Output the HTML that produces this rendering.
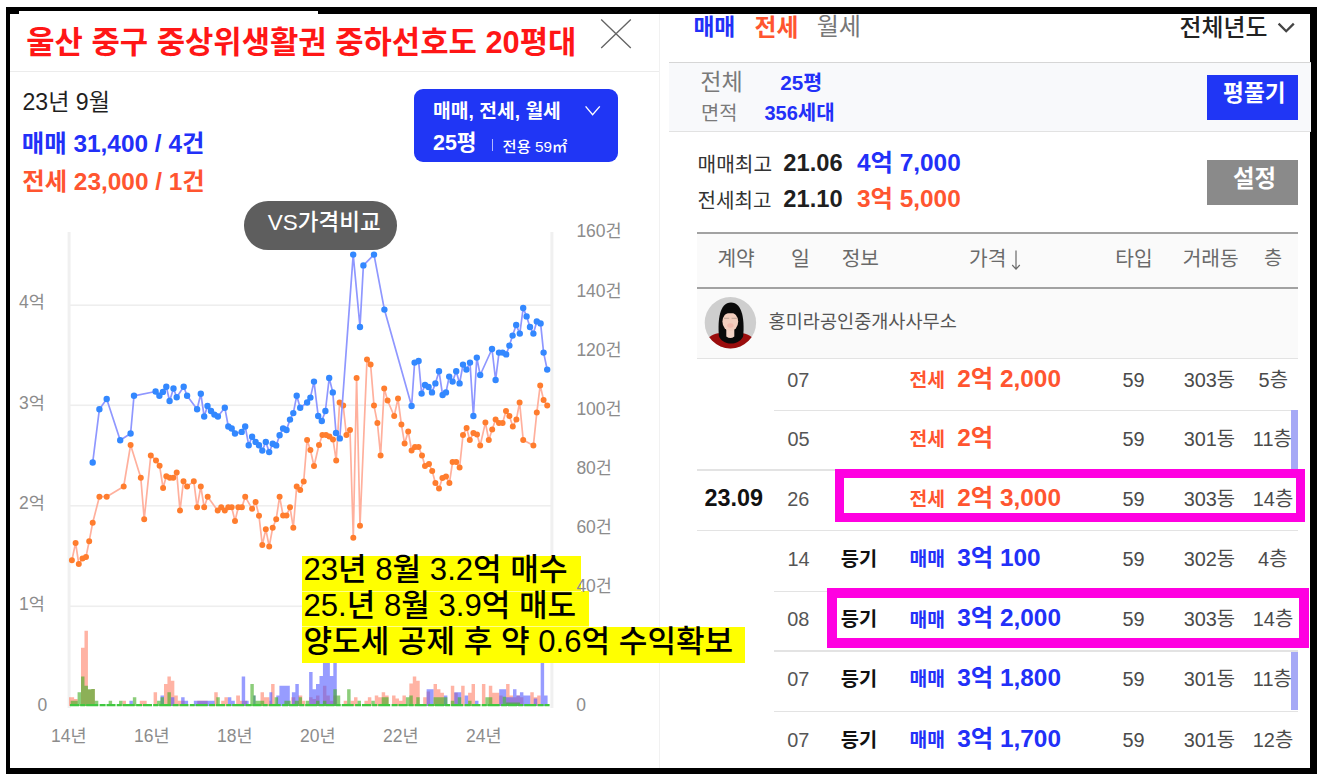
<!DOCTYPE html><html lang="ko"><head><meta charset="utf-8"><title>실거래가</title><style>
html,body{margin:0;padding:0;background:#fff}
body{width:1322px;height:780px;overflow:hidden;font-family:"Liberation Sans","Noto Sans CJK KR",sans-serif}
#app{position:relative;width:1322px;height:780px;overflow:hidden;background:#fff}
#app div,#app svg{position:absolute}
.k{background:#000}
.t{position:absolute;white-space:nowrap;line-height:1;font-family:"Liberation Sans","Noto Sans CJK KR",sans-serif}
.ln{background:#e9e9e9}
</style></head><body><div id="app"><div class="k" style="left:6px;top:7px;width:1311px;height:3.5px"></div><div class="k" style="left:318px;top:7px;width:999px;height:7px"></div><div class="k" style="left:6px;top:7px;width:13px;height:7px"></div><div class="k" style="left:6px;top:7px;width:3.6px;height:767px"></div><div class="k" style="left:1310.4px;top:7px;width:6.6px;height:767px"></div><div class="k" style="left:6px;top:768px;width:1311px;height:6px"></div><div class="ln" style="left:10px;top:71px;width:649px;height:1.4px;background:#ececec"></div><div class="ln" style="left:659px;top:14px;width:1.3px;height:754px;background:#f1f1f1"></div><svg style="left:598px;top:16px" width="36" height="36" viewBox="0 0 36 36"><path d="M3.2 3.6L32.8 32M32.8 3.6L3.2 32" stroke="#646464" stroke-width="1.35" fill="none"/></svg><div style="left:414.4px;top:88.7px;width:203.9px;height:73.4px;border-radius:9px;background:#2036f5"></div><svg style="left:582px;top:102px" width="22" height="16" viewBox="0 0 22 16"><path d="M3.6 4.4L10.6 12.6L17.8 4.4" stroke="#fff" stroke-width="1.4" fill="none"/></svg><div style="left:491.8px;top:139px;width:1.1px;height:11.5px;background:rgba(255,255,255,.65)"></div><svg style="left:0;top:0" width="1322" height="780" viewBox="0 0 1322 780"><rect x="67.6" y="232" width="3" height="476" fill="#f0f0f0"/><rect x="550.4" y="232" width="3" height="476" fill="#f0f0f0"/><rect x="70" y="304.4" width="481" height="1.6" fill="#eeeeee"/><rect x="70" y="404.5" width="481" height="1.6" fill="#eeeeee"/><rect x="70" y="505" width="481" height="1.6" fill="#eeeeee"/><rect x="70" y="605.5" width="481" height="1.6" fill="#eeeeee"/><path d="M69 706h1.66v-8.65h-1.66zM70.66 706h3.46v-8.65h-3.46zM74.11 706h3.46v-6.92h-3.46zM81.02 706h3.46v-58.25h-3.46zM84.48 706h3.46v-75.32h-3.46zM87.94 706h3.46v-16.15h-3.46zM91.39 706h3.46v-17.07h-3.46zM122.5 706h3.46v-5.19h-3.46zM139.78 706h3.46v-5.19h-3.46zM143.23 706h3.46v-5.19h-3.46zM153.6 706h3.46v-13.84h-3.46zM163.97 706h3.46v-21.91h-3.46zM167.42 706h3.46v-29.41h-3.46zM170.88 706h3.46v-25.37h-3.46zM174.34 706h3.46v-10.38h-3.46zM177.79 706h3.46v-5.19h-3.46zM309.12 706h3.46v-8.65h-3.46zM312.58 706h3.46v-6.92h-3.46zM316.03 706h3.46v-10.38h-3.46zM322.94 706h3.46v-20.18h-3.46zM326.4 706h3.46v-10.38h-3.46zM329.86 706h3.46v-5.19h-3.46zM333.31 706h3.46v-10.38h-3.46zM343.68 706h3.46v-5.19h-3.46zM350.59 706h3.46v-5.19h-3.46zM354.05 706h3.46v-8.65h-3.46zM364.42 706h3.46v-5.19h-3.46zM367.87 706h3.46v-8.65h-3.46zM374.78 706h3.46v-10.38h-3.46zM378.24 706h3.46v-8.65h-3.46zM381.7 706h3.46v-13.84h-3.46zM385.15 706h3.46v-10.38h-3.46zM392.06 706h3.46v-10.38h-3.46zM395.52 706h3.46v-7.5h-3.46zM398.98 706h3.46v-5.19h-3.46zM402.43 706h3.46v-10.38h-3.46zM409.34 706h3.46v-22.49h-3.46zM412.8 706h3.46v-29.41h-3.46zM416.26 706h3.46v-25.37h-3.46zM423.17 706h3.46v-8.65h-3.46zM426.62 706h3.46v-14.42h-3.46zM433.54 706h3.46v-21.91h-3.46zM436.99 706h3.46v-16.72h-3.46zM440.45 706h3.46v-13.26h-3.46zM450.82 706h3.46v-20.18h-3.46zM454.27 706h3.46v-13.26h-3.46zM461.18 706h3.46v-20.18h-3.46zM468.1 706h3.46v-13.26h-3.46zM471.55 706h3.46v-21.91h-3.46zM481.92 706h3.46v-21.91h-3.46zM488.83 706h3.46v-20.18h-3.46zM492.29 706h3.46v-13.26h-3.46zM495.74 706h3.46v-13.26h-3.46zM499.2 706h3.46v-10.38h-3.46zM506.11 706h3.46v-21.91h-3.46zM509.57 706h3.46v-10.38h-3.46zM513.02 706h3.46v-8.65h-3.46zM516.48 706h3.46v-10.38h-3.46zM519.94 706h3.46v-8.65h-3.46zM530.3 706h3.46v-13.84h-3.46zM533.76 706h3.46v-8.65h-3.46zM537.22 706h3.46v-10.38h-3.46zM180 706h4.61v-5.19h-4.61zM197.3 706h10.38v-5.19h-10.38zM214.26 706h3.46v-13.84h-3.46zM221.18 706h3.23v-5.19h-3.23zM224.41 706h3.46v-8.65h-3.46zM236.17 706h3.81v-10.38h-3.81zM239.98 706h6.92v-5.19h-6.92zM260.51 706h3.46v-13.84h-3.46zM263.97 706h5.42v-8.65h-5.42zM271.12 706h3.46v-21.91h-3.46zM264.78 706h6.34v-5.19h-6.34zM291.3 706h4.04v-8.65h-4.04zM298.22 706h4.04v-10.38h-4.04zM302.26 706h2.88v-5.19h-2.88z" fill="rgba(255,110,80,.52)"/><path d="M129.41 706h3.46v-5.19h-3.46zM160.51 706h3.46v-10.38h-3.46zM170.88 706h3.46v-8.65h-3.46zM309.12 706h3.46v-34.03h-3.46zM312.58 706h3.46v-16.72h-3.46zM316.03 706h3.46v-21.91h-3.46zM319.49 706h3.46v-29.99h-3.46zM322.94 706h3.46v-78.43h-3.46zM326.4 706h3.46v-78.43h-3.46zM329.86 706h3.46v-29.99h-3.46zM333.31 706h3.46v-78.43h-3.46zM426.62 706h3.46v-16.72h-3.46zM430.08 706h3.46v-16.72h-3.46zM443.9 706h3.46v-10.38h-3.46zM454.27 706h3.46v-13.84h-3.46zM457.73 706h3.46v-13.84h-3.46zM464.64 706h3.46v-10.38h-3.46zM475.01 706h3.46v-5.19h-3.46zM499.2 706h3.46v-16.72h-3.46zM502.66 706h3.46v-16.72h-3.46zM506.11 706h3.46v-8.65h-3.46zM509.57 706h3.46v-8.65h-3.46zM513.02 706h3.46v-16.72h-3.46zM516.48 706h3.46v-10.38h-3.46zM519.94 706h3.46v-13.84h-3.46zM523.39 706h3.46v-10.38h-3.46zM526.85 706h3.46v-10.38h-3.46zM533.76 706h3.46v-7.5h-3.46zM540.67 706h3.46v-78.43h-3.46zM544.13 706h3.46v-10.38h-3.46zM181.15 706h3.46v-8.65h-3.46zM184.61 706h3.46v-5.19h-3.46zM193.84 706h20.76v-5.19h-20.76zM227.87 706h3.46v-8.65h-3.46zM231.33 706h3.46v-5.19h-3.46zM241.71 706h3.46v-29.41h-3.46zM245.17 706h3.46v-5.19h-3.46zM253.24 706h2.31v-10.38h-2.31zM269.39 706h2.88v-13.84h-2.88zM276.31 706h3.11v-10.38h-3.11zM279.42 706h10.38v-20.18h-10.38zM291.88 706h3.46v-13.84h-3.46zM295.34 706h3.46v-21.91h-3.46z" fill="rgba(75,85,255,.58)"/><path d="M70.66 706h3.46v-5.19h-3.46zM74.11 706h3.46v-5.19h-3.46zM77.57 706h3.46v-13.84h-3.46zM81.02 706h3.46v-29.41h-3.46zM84.48 706h3.46v-20.18h-3.46zM87.94 706h3.46v-16.72h-3.46zM91.39 706h3.46v-17.07h-3.46zM94.85 706h3.46v-5.19h-3.46zM108.67 706h3.46v-5.19h-3.46zM119.04 706h3.46v-5.19h-3.46zM132.86 706h3.46v-8.65h-3.46zM157.06 706h3.46v-5.19h-3.46zM160.51 706h3.46v-8.65h-3.46zM167.42 706h3.46v-13.84h-3.46zM316.03 706h3.46v-5.19h-3.46zM322.94 706h3.46v-5.19h-3.46zM333.31 706h3.46v-16.72h-3.46zM336.77 706h3.46v-10.38h-3.46zM347.14 706h3.46v-16.72h-3.46zM357.5 706h3.46v-5.19h-3.46zM371.33 706h3.46v-5.19h-3.46zM381.7 706h3.46v-8.65h-3.46zM385.15 706h3.46v-8.65h-3.46zM405.89 706h3.46v-8.65h-3.46zM409.34 706h3.46v-10.38h-3.46zM416.26 706h3.46v-8.65h-3.46zM433.54 706h3.46v-8.65h-3.46zM436.99 706h3.46v-8.65h-3.46zM440.45 706h3.46v-8.65h-3.46zM443.9 706h3.46v-8.65h-3.46zM450.82 706h3.46v-5.19h-3.46zM457.73 706h3.46v-8.65h-3.46zM468.1 706h3.46v-5.19h-3.46zM485.38 706h3.46v-8.65h-3.46zM488.83 706h3.46v-8.65h-3.46zM502.66 706h3.46v-9.23h-3.46zM506.11 706h3.46v-3.46h-3.46zM509.57 706h3.46v-3.46h-3.46zM513.02 706h3.46v-3.46h-3.46zM516.48 706h3.46v-3.46h-3.46zM216.33 706h3.46v-8.65h-3.46zM250.36 706h3.46v-21.91h-3.46zM253.82 706h1.73v-10.38h-1.73zM255.55 706h8.65v-5.19h-8.65zM274.58 706h3.46v-8.65h-3.46zM284.38 706h6.34v-5.19h-6.34zM294.76 706h4.04v-5.19h-4.04zM298.8 706h3.23v-8.65h-3.23zM305.72 706h3.46v-5.19h-3.46z" fill="rgba(70,175,40,.62)"/><path d="M70 705.2H549.6" stroke="#3fc83f" stroke-width="2.2" stroke-dasharray="9 1.2 5 1 12 1.4 6 .9" fill="none"/><path d="M71.9 560.2 75.6 542.9 78.8 564 82.5 558.5 86 556.9 89.2 541.2 92.7 522.7 99.4 496.7 106.7 496.7 123.7 486.5 130.6 445 140.8 477.7 144.2 519.2 150.8 455.4 156 460.4 159.6 465.8 163.1 488 166.3 476.2 169.8 477.7 173.3 477.7 176.7 472.5 180 510.6 183.5 481.2 187.1 486.5 193.8 481.2 197.1 507.3 200.8 486.5 204.2 507.3 207.7 496.7 217.7 510.6 221.2 507.3 224.8 510.6 228.3 507.3 231.7 507.3 235 521 238.3 507.3 241.9 507.3 245.2 496.7 252.1 508.8 255.6 501.9 259 515.8 262.3 545 265.8 529.2 269.2 546.5 272.7 527.7 276.2 519.2 279.6 496.7 283.1 515.6 286.5 515.6 290 507.3 293.3 527.7 296.7 486.5 300.2 490 303.7 481.5 307.1 440 310.4 450 314 466 319 445 322.4 435 326 435 329.4 436.6 333 439.4 336.2 460.6 339.6 402.4 343.2 405.6 346.4 435 350 430 353.3 537.8 356.6 378 360 525.8 367 359.4 370.6 364.6 374 405.6 377.4 423 380.6 455.6 384.2 388.6 387.6 400.6 394.2 416 398 398.6 401.4 424.6 404.6 443.6 408.2 431.4 411.6 450.4 415 447 418.6 447 422 455.6 425 466 429 464 432.2 471 435.4 483 439 488.4 442.4 478 446 476.4 449.4 483 452.6 462 456.2 462 459.6 467.4 463 435 466.6 428 469.8 440 473.4 433 477 434.6 480.2 445.4 485.4 422.6 488.8 440 492.2 429.6 495.6 419.4 499 423 502.6 423 506 411 509.4 416 512.8 426.4 516.4 419.4 519.6 402.4 523.2 440 533.4 445.4 536.8 412.6 540.2 385.4 543.6 400 547.2 405.6" fill="none" stroke="#ffb09d" stroke-width="1.7" stroke-linejoin="round"/><path d="M71.9 560.2h0M75.6 542.9h0M78.8 564h0M82.5 558.5h0M86 556.9h0M89.2 541.2h0M92.7 522.7h0M99.4 496.7h0M106.7 496.7h0M123.7 486.5h0M130.6 445h0M140.8 477.7h0M144.2 519.2h0M150.8 455.4h0M156 460.4h0M159.6 465.8h0M163.1 488h0M166.3 476.2h0M169.8 477.7h0M173.3 477.7h0M176.7 472.5h0M180 510.6h0M183.5 481.2h0M187.1 486.5h0M193.8 481.2h0M197.1 507.3h0M200.8 486.5h0M204.2 507.3h0M207.7 496.7h0M217.7 510.6h0M221.2 507.3h0M224.8 510.6h0M228.3 507.3h0M231.7 507.3h0M235 521h0M238.3 507.3h0M241.9 507.3h0M245.2 496.7h0M252.1 508.8h0M255.6 501.9h0M259 515.8h0M262.3 545h0M265.8 529.2h0M269.2 546.5h0M272.7 527.7h0M276.2 519.2h0M279.6 496.7h0M283.1 515.6h0M286.5 515.6h0M290 507.3h0M293.3 527.7h0M296.7 486.5h0M300.2 490h0M303.7 481.5h0M307.1 440h0M310.4 450h0M314 466h0M319 445h0M322.4 435h0M326 435h0M329.4 436.6h0M333 439.4h0M336.2 460.6h0M339.6 402.4h0M343.2 405.6h0M346.4 435h0M350 430h0M353.3 537.8h0M356.6 378h0M360 525.8h0M367 359.4h0M370.6 364.6h0M374 405.6h0M377.4 423h0M380.6 455.6h0M384.2 388.6h0M387.6 400.6h0M394.2 416h0M398 398.6h0M401.4 424.6h0M404.6 443.6h0M408.2 431.4h0M411.6 450.4h0M415 447h0M418.6 447h0M422 455.6h0M425 466h0M429 464h0M432.2 471h0M435.4 483h0M439 488.4h0M442.4 478h0M446 476.4h0M449.4 483h0M452.6 462h0M456.2 462h0M459.6 467.4h0M463 435h0M466.6 428h0M469.8 440h0M473.4 433h0M477 434.6h0M480.2 445.4h0M485.4 422.6h0M488.8 440h0M492.2 429.6h0M495.6 419.4h0M499 423h0M502.6 423h0M506 411h0M509.4 416h0M512.8 426.4h0M516.4 419.4h0M519.6 402.4h0M523.2 440h0M533.4 445.4h0M536.8 412.6h0M540.2 385.4h0M543.6 400h0M547.2 405.6h0" fill="none" stroke="#ff7d2e" stroke-width="6" stroke-linecap="round"/><path d="M92.7 462.5 99.4 409.2 106.7 399 120.2 440.2 130.6 433.5 134 395.8 155.6 391.5 159.4 395.8 162.9 391.9 166.3 386.7 169.6 401 173.5 388.5 176.7 397.3 183.7 386.7 187.1 395.8 197.1 409.2 200.8 393.8 204.2 416.5 207.5 406 211 411 214.4 414.6 217.9 416.5 224.8 407.7 228.3 426.5 231.7 428.5 235 433.5 241.7 431.9 245.2 426.5 248.7 445.2 252.1 436.7 255.6 441.9 259 445.2 262.3 450.6 265.8 441.9 269.2 452.1 272.7 443.8 276.2 445.4 279.6 435.2 283.1 428.5 286.5 430 290 419.6 293.3 413.1 296.7 395.8 300.2 407.7 307.1 402.5 310.4 397.6 314 381.6 318.2 416 321.8 421 325.4 411 329.2 378 332.8 392.4 336 433 339.8 438.4 353.2 254.6 360 327 363.4 265.4 374 254.6 384.4 309.6 411.6 406 414.6 362.6 418.6 361 421.6 393.6 425 385 428.6 387 432 392.4 435.4 383.4 439 371.2 442.6 395 446 392.4 449.2 376.6 452.6 381.6 456.2 371.2 459.6 383.4 463 364.6 466.4 369.6 470 362.6 473.4 416 476.8 357.6 480.2 375 492 349 495.6 380 499 352.6 502.6 352.6 506.2 354.4 509.4 345.6 512.6 335.6 516.2 325 519.8 333.6 523.2 308 526.6 316.4 530 327 533.4 333.6 536.8 321.4 540.6 323.4 543.6 352.6 547.2 369.6" fill="none" stroke="#8f97ff" stroke-width="1.7" stroke-linejoin="round"/><path d="M92.7 462.5h0M99.4 409.2h0M106.7 399h0M120.2 440.2h0M130.6 433.5h0M134 395.8h0M155.6 391.5h0M159.4 395.8h0M162.9 391.9h0M166.3 386.7h0M169.6 401h0M173.5 388.5h0M176.7 397.3h0M183.7 386.7h0M187.1 395.8h0M197.1 409.2h0M200.8 393.8h0M204.2 416.5h0M207.5 406h0M211 411h0M214.4 414.6h0M217.9 416.5h0M224.8 407.7h0M228.3 426.5h0M231.7 428.5h0M235 433.5h0M241.7 431.9h0M245.2 426.5h0M248.7 445.2h0M252.1 436.7h0M255.6 441.9h0M259 445.2h0M262.3 450.6h0M265.8 441.9h0M269.2 452.1h0M272.7 443.8h0M276.2 445.4h0M279.6 435.2h0M283.1 428.5h0M286.5 430h0M290 419.6h0M293.3 413.1h0M296.7 395.8h0M300.2 407.7h0M307.1 402.5h0M310.4 397.6h0M314 381.6h0M318.2 416h0M321.8 421h0M325.4 411h0M329.2 378h0M332.8 392.4h0M336 433h0M339.8 438.4h0M353.2 254.6h0M360 327h0M363.4 265.4h0M374 254.6h0M384.4 309.6h0M411.6 406h0M414.6 362.6h0M418.6 361h0M421.6 393.6h0M425 385h0M428.6 387h0M432 392.4h0M435.4 383.4h0M439 371.2h0M442.6 395h0M446 392.4h0M449.2 376.6h0M452.6 381.6h0M456.2 371.2h0M459.6 383.4h0M463 364.6h0M466.4 369.6h0M470 362.6h0M473.4 416h0M476.8 357.6h0M480.2 375h0M492 349h0M495.6 380h0M499 352.6h0M502.6 352.6h0M506.2 354.4h0M509.4 345.6h0M512.6 335.6h0M516.2 325h0M519.8 333.6h0M523.2 308h0M526.6 316.4h0M530 327h0M533.4 333.6h0M536.8 321.4h0M540.6 323.4h0M543.6 352.6h0M547.2 369.6h0" fill="none" stroke="#3388ff" stroke-width="6.4" stroke-linecap="round"/></svg><div style="left:243.5px;top:201.3px;width:153.6px;height:48.4px;border-radius:24.2px;background:#5e5e5e"></div><div style="left:669px;top:61.6px;width:642px;height:70px;background:#f8f9fb;border-top:1.6px solid #d6d6d6;border-bottom:1.3px solid #e2e2e2;box-sizing:border-box"></div><div style="left:1207.1px;top:75.2px;width:91.1px;height:45.3px;background:#2036f5"></div><div style="left:1207.1px;top:160.1px;width:91.1px;height:45.1px;background:#8a8a8a"></div><svg style="left:1274px;top:19px" width="24" height="18" viewBox="0 0 24 18"><path d="M4.6 4.6L12.2 12.2L19.8 4.6" stroke="#444" stroke-width="2.3" fill="none"/></svg><div style="left:697px;top:232.4px;width:601.3px;height:126px;background:#fafafa"></div><div style="left:697px;top:232.2px;width:601.3px;height:2px;background:#a2a2a2"></div><div style="left:697px;top:287.2px;width:601.3px;height:2px;background:#a2a2a2"></div><div style="left:697px;top:358px;width:601.3px;height:1.2px;background:#e3e3e3"></div><div style="left:774px;top:409.6px;width:524.3px;height:1.2px;background:#e3e3e3"></div><div style="left:697px;top:469.4px;width:601.3px;height:1.2px;background:#e3e3e3"></div><div style="left:697px;top:530.2px;width:601.3px;height:1.2px;background:#e3e3e3"></div><div style="left:774px;top:590.8px;width:524.3px;height:1.2px;background:#e3e3e3"></div><div style="left:774px;top:650.4px;width:524.3px;height:1.2px;background:#e3e3e3"></div><div style="left:774px;top:711px;width:524.3px;height:1.2px;background:#e3e3e3"></div><svg style="left:1008px;top:248px" width="16" height="24" viewBox="0 0 16 24"><path d="M8 2.5V21M4.2 17L8 21.2L11.8 17" stroke="#6a6a6a" stroke-width="1.2" fill="none"/></svg><svg style="left:0;top:0" width="1322" height="780" viewBox="0 0 1322 780"><clipPath id="av"><circle cx="730.4" cy="322.7" r="25.7"/></clipPath><g clip-path="url(#av)"><rect x="700" y="295" width="62" height="56" fill="#cecece"/><path d="M702 352C704 340 710 334.5 718 333.2L743 333.2C751 334.5 757 340 759 352z" fill="#9a0c0c"/><path d="M718.9 336C717.6 320 719.5 302.4 731 302.4S744.6 320 743.2 336C742 340 737 343.6 731 343.6S720 340 718.9 336z" fill="#0a0a0a"/><path d="M726.3 329h8v7.4q-4 3.4-8 0z" fill="#f3d3c6"/><ellipse cx="730.3" cy="321.6" rx="7.9" ry="9.3" fill="#f2cdbd"/><ellipse cx="730.4" cy="325.5" rx="3.2" ry="2.2" fill="#f0b2a6" opacity=".7"/><path d="M721 318.5C721.5 310 726 308.2 731 308.2S739.6 310 740 318.5C739.4 314.2 738 313.2 731 313.2S722.6 314 721 318.5z" fill="#0a0a0a"/><path d="M724 318.3h5.2M731.6 318.3h5.2" stroke="#8a7a70" stroke-width=".7" opacity=".7"/></g></svg><div style="left:301.7px;top:556.2px;width:279.3px;height:35px;background:#ffff00"></div><div style="left:301.7px;top:590.8px;width:287.1px;height:36.2px;background:#ffff00"></div><div style="left:301.7px;top:626.6px;width:443.1px;height:36.8px;background:#ffff00"></div><div style="left:301.7px;top:590.5px;width:279.3px;height:.9px;background:rgba(255,255,255,.55)"></div><div style="left:301.7px;top:626.4px;width:287.1px;height:.9px;background:rgba(255,255,255,.55)"></div><div style="left:835px;top:469.2px;width:470px;height:53.3px;box-sizing:border-box;border:9.6px solid #ff00e1"></div><div style="left:827.3px;top:588px;width:481.5px;height:60.4px;box-sizing:border-box;border:10.2px solid #ff00e1;border-right-width:10.8px"></div><div style="left:1290.7px;top:410.4px;width:7px;height:58.8px;background:#a6a9f6"></div><div style="left:1290.7px;top:651.5px;width:7px;height:58.8px;background:#a6a9f6"></div><span class="t" style="left:26.2px;top:28px;font-size:30.8px;color:#ff1616;font-weight:700">울산 중구 중상위생활권 중하선호도 20평대</span><span class="t" style="left:22.5px;top:90.6px;font-size:23.1px;color:#1f1f1f">23년 9월</span><span class="t" style="left:21.8px;top:131.8px;font-size:24.4px;color:#2230f8;font-weight:700">매매 31,400 / 4건</span><span class="t" style="left:22.2px;top:170.4px;font-size:24.4px;color:#ff5530;font-weight:700">전세 23,000 / 1건</span><span class="t" style="left:433px;top:101.5px;font-size:19.3px;color:#fff;font-weight:700">매매, 전세, 월세</span><span class="t" style="left:433px;top:133.4px;font-size:21.4px;color:#fff;font-weight:700">25평</span><span class="t" style="left:502.6px;top:139px;font-size:15.3px;color:#fff;font-weight:500">전용 59㎡</span><span class="t" style="left:267.8px;top:211.5px;font-size:22.5px;color:#fff;font-weight:500">VS가격비교</span><span class="t" style="left:19px;top:293.7px;font-size:17.5px;color:#8c8c8c">4억</span><span class="t" style="left:19px;top:394.5px;font-size:17.5px;color:#8c8c8c">3억</span><span class="t" style="left:19px;top:495px;font-size:17.5px;color:#8c8c8c">2억</span><span class="t" style="left:19px;top:595.7px;font-size:17.5px;color:#8c8c8c">1억</span><span class="t" style="left:37.4px;top:697.4px;font-size:17.5px;color:#8c8c8c">0</span><span class="t" style="left:576.4px;top:223.4px;font-size:17.5px;color:#8c8c8c">160건</span><span class="t" style="left:576.4px;top:282.5px;font-size:17.5px;color:#8c8c8c">140건</span><span class="t" style="left:576.4px;top:341.6px;font-size:17.5px;color:#8c8c8c">120건</span><span class="t" style="left:576.4px;top:400.7px;font-size:17.5px;color:#8c8c8c">100건</span><span class="t" style="left:576.4px;top:459.8px;font-size:17.5px;color:#8c8c8c">80건</span><span class="t" style="left:576.4px;top:518.9px;font-size:17.5px;color:#8c8c8c">60건</span><span class="t" style="left:576.4px;top:578px;font-size:17.5px;color:#8c8c8c">40건</span><span class="t" style="left:576.2px;top:697.4px;font-size:17.5px;color:#8c8c8c">0</span><span class="t" style="left:51.1px;top:727.9px;font-size:17.5px;color:#8c8c8c">14년</span><span class="t" style="left:134.1px;top:727.9px;font-size:17.5px;color:#8c8c8c">16년</span><span class="t" style="left:217.1px;top:727.9px;font-size:17.5px;color:#8c8c8c">18년</span><span class="t" style="left:300.1px;top:727.9px;font-size:17.5px;color:#8c8c8c">20년</span><span class="t" style="left:383.1px;top:727.9px;font-size:17.5px;color:#8c8c8c">22년</span><span class="t" style="left:466.1px;top:727.9px;font-size:17.5px;color:#8c8c8c">24년</span><span class="t" style="left:303.5px;top:553.7px;font-size:31.1px;color:#000;font-weight:500">23년 8월 3.2억 매수</span><span class="t" style="left:303.5px;top:589.6px;font-size:31.1px;color:#000;font-weight:500">25.년 8월 3.9억 매도</span><span class="t" style="left:303.5px;top:626.2px;font-size:31.1px;color:#000;font-weight:500">양도세 공제 후 약 0.6억 수익확보</span><span class="t" style="left:693.4px;top:16px;font-size:22.8px;color:#2230f8;font-weight:700">매매</span><span class="t" style="left:754.6px;top:15.9px;font-size:23.8px;color:#ff5530;font-weight:700">전세</span><span class="t" style="left:816.7px;top:15.4px;font-size:24.1px;color:#777">월세</span><span class="t" style="left:1179.6px;top:15.8px;font-size:23.9px;color:#222;font-weight:500">전체년도</span><span class="t" style="left:700.3px;top:71.1px;font-size:23.1px;color:#7a7a7a">전체</span><span class="t" style="left:780.2px;top:73.1px;font-size:20.7px;color:#2230f8;font-weight:700">25평</span><span class="t" style="left:701px;top:103.5px;font-size:19.8px;color:#7a7a7a">면적</span><span class="t" style="left:764.5px;top:102.5px;font-size:20px;color:#2230f8;font-weight:700">356세대</span><span class="t" style="left:1223.1px;top:82.6px;font-size:22.6px;color:#fff;font-weight:700">평풀기</span><span class="t" style="left:697.5px;top:154.8px;font-size:20.3px;color:#333">매매최고</span><span class="t" style="left:783.3px;top:152.2px;font-size:23.7px;color:#1f1f1f;font-weight:700">21.06</span><span class="t" style="left:856.9px;top:151.2px;font-size:24.4px;color:#2230f8;font-weight:700">4억 7,000</span><span class="t" style="left:697.5px;top:191px;font-size:20.1px;color:#333">전세최고</span><span class="t" style="left:783.3px;top:187.9px;font-size:23.7px;color:#1f1f1f;font-weight:700">21.10</span><span class="t" style="left:856.9px;top:186.7px;font-size:24.4px;color:#ff5530;font-weight:700">3억 5,000</span><span class="t" style="left:1233px;top:168.4px;font-size:23.4px;color:#fff;font-weight:700">설정</span><span class="t" style="left:717.4px;top:248.7px;font-size:20.3px;color:#6a6a6a">계약</span><span class="t" style="left:791px;top:248.6px;font-size:20.5px;color:#6a6a6a">일</span><span class="t" style="left:841.7px;top:248.6px;font-size:20.3px;color:#6a6a6a">정보</span><span class="t" style="left:969px;top:248.7px;font-size:20.3px;color:#6a6a6a">가격</span><span class="t" style="left:1115.3px;top:248.6px;font-size:20.3px;color:#6a6a6a">타입</span><span class="t" style="left:1182.7px;top:248.7px;font-size:20.3px;color:#6a6a6a">거래동</span><span class="t" style="left:1264.1px;top:249.2px;font-size:19.7px;color:#6a6a6a">층</span><span class="t" style="left:768.6px;top:312.6px;font-size:18.6px;color:#555">홍미라공인중개사사무소</span><span class="t" style="left:787.3px;top:371.1px;font-size:19.9px;color:#555">07</span><span class="t" style="left:909.5px;top:371.3px;font-size:19.3px;color:#ff5530;font-weight:700">전세</span><span class="t" style="left:957.2px;top:367.1px;font-size:24.4px;color:#ff5530;font-weight:700">2억 2,000</span><span class="t" style="left:1122.4px;top:371.1px;font-size:19.9px;color:#4a4a4a">59</span><span class="t" style="left:1183.7px;top:371.1px;font-size:19.9px;color:#4a4a4a">303동</span><span class="t" style="left:1258.6px;top:371.1px;font-size:19.9px;color:#4a4a4a">5층</span><span class="t" style="left:787.5px;top:429.9px;font-size:19.9px;color:#555">05</span><span class="t" style="left:909.5px;top:430.1px;font-size:19.3px;color:#ff5530;font-weight:700">전세</span><span class="t" style="left:957.2px;top:425.9px;font-size:24.4px;color:#ff5530;font-weight:700">2억</span><span class="t" style="left:1122.4px;top:429.9px;font-size:19.9px;color:#4a4a4a">59</span><span class="t" style="left:1183.7px;top:429.9px;font-size:19.9px;color:#4a4a4a">301동</span><span class="t" style="left:1252.8px;top:429.9px;font-size:19.9px;color:#4a4a4a">11층</span><span class="t" style="left:787.2px;top:490px;font-size:19.9px;color:#555">26</span><span class="t" style="left:909.5px;top:490.2px;font-size:19.3px;color:#ff5530;font-weight:700">전세</span><span class="t" style="left:957.2px;top:486px;font-size:24.4px;color:#ff5530;font-weight:700">2억 3,000</span><span class="t" style="left:1122.4px;top:490px;font-size:19.9px;color:#4a4a4a">59</span><span class="t" style="left:1183.7px;top:490px;font-size:19.9px;color:#4a4a4a">303동</span><span class="t" style="left:1252.8px;top:490px;font-size:19.9px;color:#4a4a4a">14층</span><span class="t" style="left:787.5px;top:549.6px;font-size:19.9px;color:#555">14</span><span class="t" style="left:840.8px;top:549.5px;font-size:19.8px;color:#111;font-weight:700">등기</span><span class="t" style="left:909.5px;top:549.8px;font-size:19.3px;color:#2230f8;font-weight:700">매매</span><span class="t" style="left:957.2px;top:545.6px;font-size:24.4px;color:#2230f8;font-weight:700">3억 100</span><span class="t" style="left:1122.4px;top:549.6px;font-size:19.9px;color:#4a4a4a">59</span><span class="t" style="left:1183.7px;top:549.6px;font-size:19.9px;color:#4a4a4a">302동</span><span class="t" style="left:1258.1px;top:549.6px;font-size:19.9px;color:#4a4a4a">4층</span><span class="t" style="left:787.3px;top:610.3px;font-size:19.9px;color:#555">08</span><span class="t" style="left:840.8px;top:610.2px;font-size:19.8px;color:#111;font-weight:700">등기</span><span class="t" style="left:909.5px;top:610.5px;font-size:19.3px;color:#2230f8;font-weight:700">매매</span><span class="t" style="left:957.2px;top:606.3px;font-size:24.4px;color:#2230f8;font-weight:700">3억 2,000</span><span class="t" style="left:1122.4px;top:610.3px;font-size:19.9px;color:#4a4a4a">59</span><span class="t" style="left:1183.7px;top:610.3px;font-size:19.9px;color:#4a4a4a">303동</span><span class="t" style="left:1252.8px;top:610.3px;font-size:19.9px;color:#4a4a4a">14층</span><span class="t" style="left:787.3px;top:670px;font-size:19.9px;color:#555">07</span><span class="t" style="left:840.8px;top:669.9px;font-size:19.8px;color:#111;font-weight:700">등기</span><span class="t" style="left:909.5px;top:670.2px;font-size:19.3px;color:#2230f8;font-weight:700">매매</span><span class="t" style="left:957.2px;top:666px;font-size:24.4px;color:#2230f8;font-weight:700">3억 1,800</span><span class="t" style="left:1122.4px;top:670px;font-size:19.9px;color:#4a4a4a">59</span><span class="t" style="left:1183.7px;top:670px;font-size:19.9px;color:#4a4a4a">301동</span><span class="t" style="left:1252.8px;top:670px;font-size:19.9px;color:#4a4a4a">11층</span><span class="t" style="left:787.3px;top:730.6px;font-size:19.9px;color:#555">07</span><span class="t" style="left:840.8px;top:730.5px;font-size:19.8px;color:#111;font-weight:700">등기</span><span class="t" style="left:909.5px;top:730.8px;font-size:19.3px;color:#2230f8;font-weight:700">매매</span><span class="t" style="left:957.2px;top:726.6px;font-size:24.4px;color:#2230f8;font-weight:700">3억 1,700</span><span class="t" style="left:1122.4px;top:730.6px;font-size:19.9px;color:#4a4a4a">59</span><span class="t" style="left:1183.7px;top:730.6px;font-size:19.9px;color:#4a4a4a">301동</span><span class="t" style="left:1252.8px;top:730.6px;font-size:19.9px;color:#4a4a4a">12층</span><span class="t" style="left:704.4px;top:486.8px;font-size:23.4px;color:#111;font-weight:700">23.09</span></div></body></html>
